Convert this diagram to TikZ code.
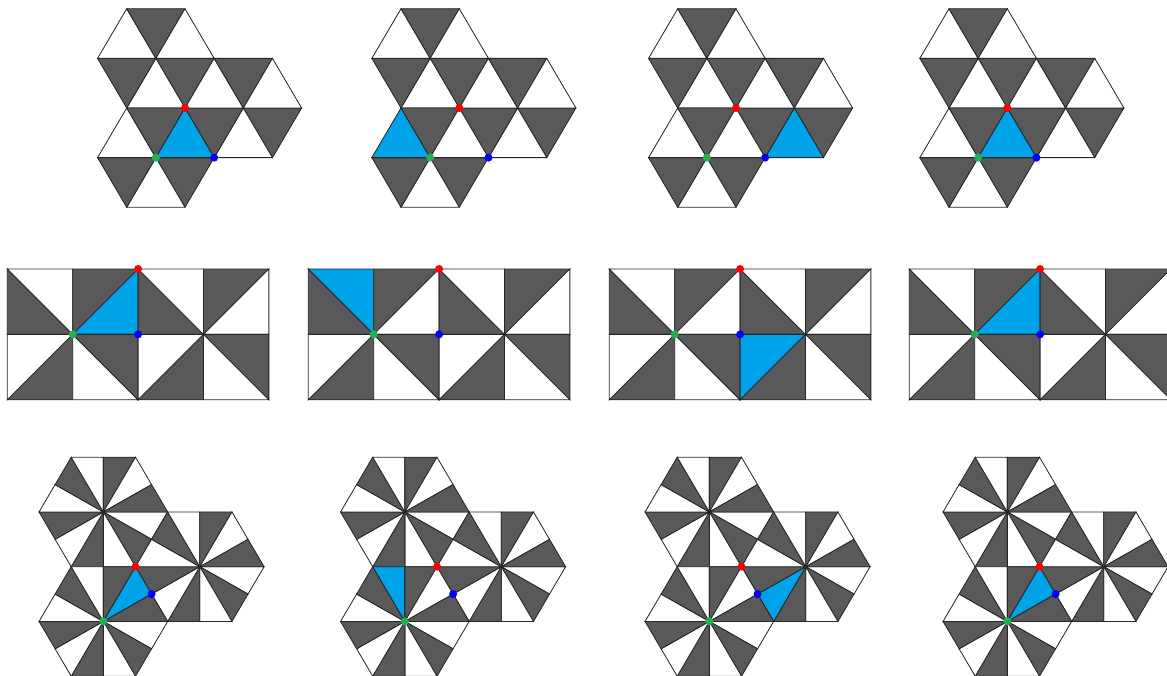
\documentclass[tikz,border=0pt]{standalone}
\usepackage{tikz}
\definecolor{tiledark}{RGB}{89,89,89}
\definecolor{tileblue}{RGB}{0,162,232}
\definecolor{markred}{RGB}{255,0,0}
\definecolor{markgreen}{RGB}{34,177,76}
\definecolor{markblue}{RGB}{0,0,255}
\tikzstyle{tile0} = [
    fill=tiledark,
    draw=black!85,
    line width=0.7pt
]
\tikzstyle{tile1} = [
    fill=white,
    draw=black!85,
    line width=0.7pt
]
\tikzstyle{tile2} = [
    fill=tileblue,
    draw=black!85,
    line width=0.7pt
]
\tikzstyle{reddot} = [fill=markred]
\tikzstyle{greendot} = [fill=markgreen]
\tikzstyle{bluedot} = [fill=markblue]
\newcommand*{\tside}{58.3}
\newcommand*{\pside}{64.3}
\newcommand*{\qside}{65.4}
% hexagon cut in 6 triangles: centre, blue piece (-1 = none)
\newcommand{\trihex}[2]{%
  \begin{scope}[shift={(#1)}]
    \foreach \k in {0,...,5} {
      \pgfmathtruncatemacro{\kind}{\k==#2 ? 2 : mod(\k,2)}
      \path[tile\kind] (0,0) -- (60*\k:\tside) -- (60*\k+60:\tside) -- cycle;
    }
  \end{scope}
}
% hexagon cut in 12 triangles: centre, blue piece (-1 = none)
\newcommand{\pinhex}[2]{%
  \begin{scope}[shift={(#1)}]
    \foreach \k in {0,...,11} {
      \pgfmathtruncatemacro{\kind}{\k==#2 ? 2 : mod(\k+1,2)}
      \pgfmathsetmacro{\radA}{mod(\k,2)==0 ? \pside : 0.8660254*\pside}
      \pgfmathsetmacro{\radB}{mod(\k,2)==0 ? 0.8660254*\pside : \pside}
      \path[tile\kind] (0,0) -- (30*\k:\radA) -- (30*\k+30:\radB) -- cycle;
    }
  \end{scope}
}
% 4x2 squares cut by diagonals: top left corner, blue piece
\newcommand{\squarepanel}[2]{%
  \begin{scope}[shift={(#1)}]
    \foreach \c in {0,...,3} {
      \foreach \r in {0,1} {
        \pgfmathtruncatemacro{\diag}{mod(\c+\r,2)}
        \pgfmathsetmacro{\ytip}{\diag==0 ? \qside : 0}
        \pgfmathsetmacro{\yback}{\diag==0 ? 0 : \qside}
        \pgfmathtruncatemacro{\kindL}{\r==0 ? 0 : (\c+4*\r==#2 ? 2 : 1)}
        \pgfmathtruncatemacro{\kindR}{\r==1 ? 0 : (\c+4*\r==#2 ? 2 : 1)}
        \begin{scope}[shift={(\c*\qside,\r*\qside)}]
          \path[tile\kindL] (0,0) -- (0,\qside) -- (\qside,\ytip) -- cycle;
          \path[tile\kindR] (\qside,0) -- (\qside,\qside) -- (0,\yback) -- cycle;
        \end{scope}
      }
    }
  \end{scope}
}

\begin{document}
\begin{tikzpicture}[x=0.03cm, y=-0.03cm]
    \clip (0,0) rectangle (1167,676);

    % Triangles
    \begin{scope}[shift={(185,108)}, yscale=0.983]
        \trihex{-29.15,-50.49}{-1}
        \trihex{58.3,0}{-1}
        \trihex{-29.15,50.49}{5}
        \coordinate (red1) at (0,0);
        \coordinate (green1) at (-29.15,50.49);
        \coordinate (blue1) at (29.15,50.49);
    \end{scope}
    \begin{scope}[shift={(459.3,108)}, yscale=0.983]
        \trihex{-29.15,-50.49}{-1}
        \trihex{58.3,0}{-1}
        \trihex{-29.15,50.49}{3}
        \coordinate (red2) at (0,0);
        \coordinate (green2) at (-29.15,50.49);
        \coordinate (blue2) at (29.15,50.49);
    \end{scope}
    \begin{scope}[shift={(736,108)}, yscale=0.983]
        \trihex{-29.15,-50.49}{-1}
        \trihex{58.3,0}{1}
        \trihex{-29.15,50.49}{-1}
        \coordinate (red3) at (0,0);
        \coordinate (green3) at (-29.15,50.49);
        \coordinate (blue3) at (29.15,50.49);
    \end{scope}
    \begin{scope}[shift={(1007.3,108)}, yscale=0.983]
        \trihex{-29.15,-50.49}{-1}
        \trihex{58.3,0}{-1}
        \trihex{-29.15,50.49}{5}
        \coordinate (red4) at (0,0);
        \coordinate (green4) at (-29.15,50.49);
        \coordinate (blue4) at (29.15,50.49);
    \end{scope}

    % Squares
    \squarepanel{7.3,269}{1}
    \squarepanel{308.3,269}{0}
    \squarepanel{609.3,269}{6}
    \squarepanel{909.3,269}{1}
    \coordinate (red5) at (138.1,269);
    \coordinate (green5) at (72.7,334.4);
    \coordinate (blue5) at (138.1,334.4);
    \coordinate (red6) at (439.1,269);
    \coordinate (green6) at (373.7,334.4);
    \coordinate (blue6) at (439.1,334.4);
    \coordinate (red7) at (740.1,269);
    \coordinate (green7) at (674.7,334.4);
    \coordinate (blue7) at (740.1,334.4);
    \coordinate (red8) at (1040.1,269);
    \coordinate (green8) at (974.7,334.4);
    \coordinate (blue8) at (1040.1,334.4);

    % Pinwheels
    \begin{scope}[shift={(135.5,566.7)}, yscale=0.983]
        \pinhex{-32.15,-55.69}{-1}
        \pinhex{64.3,0}{-1}
        \pinhex{-32.15,55.69}{10}
        \coordinate (red9) at (0,0);
        \coordinate (green9) at (-32.15,55.69);
        \coordinate (blue9) at (16.08,27.84);
    \end{scope}
    \begin{scope}[shift={(437,566.7)}, yscale=0.983]
        \pinhex{-32.15,-55.69}{-1}
        \pinhex{64.3,0}{-1}
        \pinhex{-32.15,55.69}{8}
        \coordinate (red10) at (0,0);
        \coordinate (green10) at (-32.15,55.69);
        \coordinate (blue10) at (16.08,27.84);
    \end{scope}
    \begin{scope}[shift={(741.5,566.7)}, yscale=0.983]
        \pinhex{-32.15,-55.69}{-1}
        \pinhex{64.3,0}{4}
        \pinhex{-32.15,55.69}{-1}
        \coordinate (red11) at (0,0);
        \coordinate (green11) at (-32.15,55.69);
        \coordinate (blue11) at (16.08,27.84);
    \end{scope}
    \begin{scope}[shift={(1039.5,566.7)}, yscale=0.983]
        \pinhex{-32.15,-55.69}{-1}
        \pinhex{64.3,0}{-1}
        \pinhex{-32.15,55.69}{10}
        \coordinate (red12) at (0,0);
        \coordinate (green12) at (-32.15,55.69);
        \coordinate (blue12) at (16.08,27.84);
    \end{scope}

    % Marked points
    \foreach \i in {1,...,12} {
        \fill[reddot] (red\i) circle[radius=1.2mm];
        \fill[greendot] (green\i) circle[radius=1.2mm];
        \fill[bluedot] (blue\i) circle[radius=1.2mm];
    }
\end{tikzpicture}
\end{document}
